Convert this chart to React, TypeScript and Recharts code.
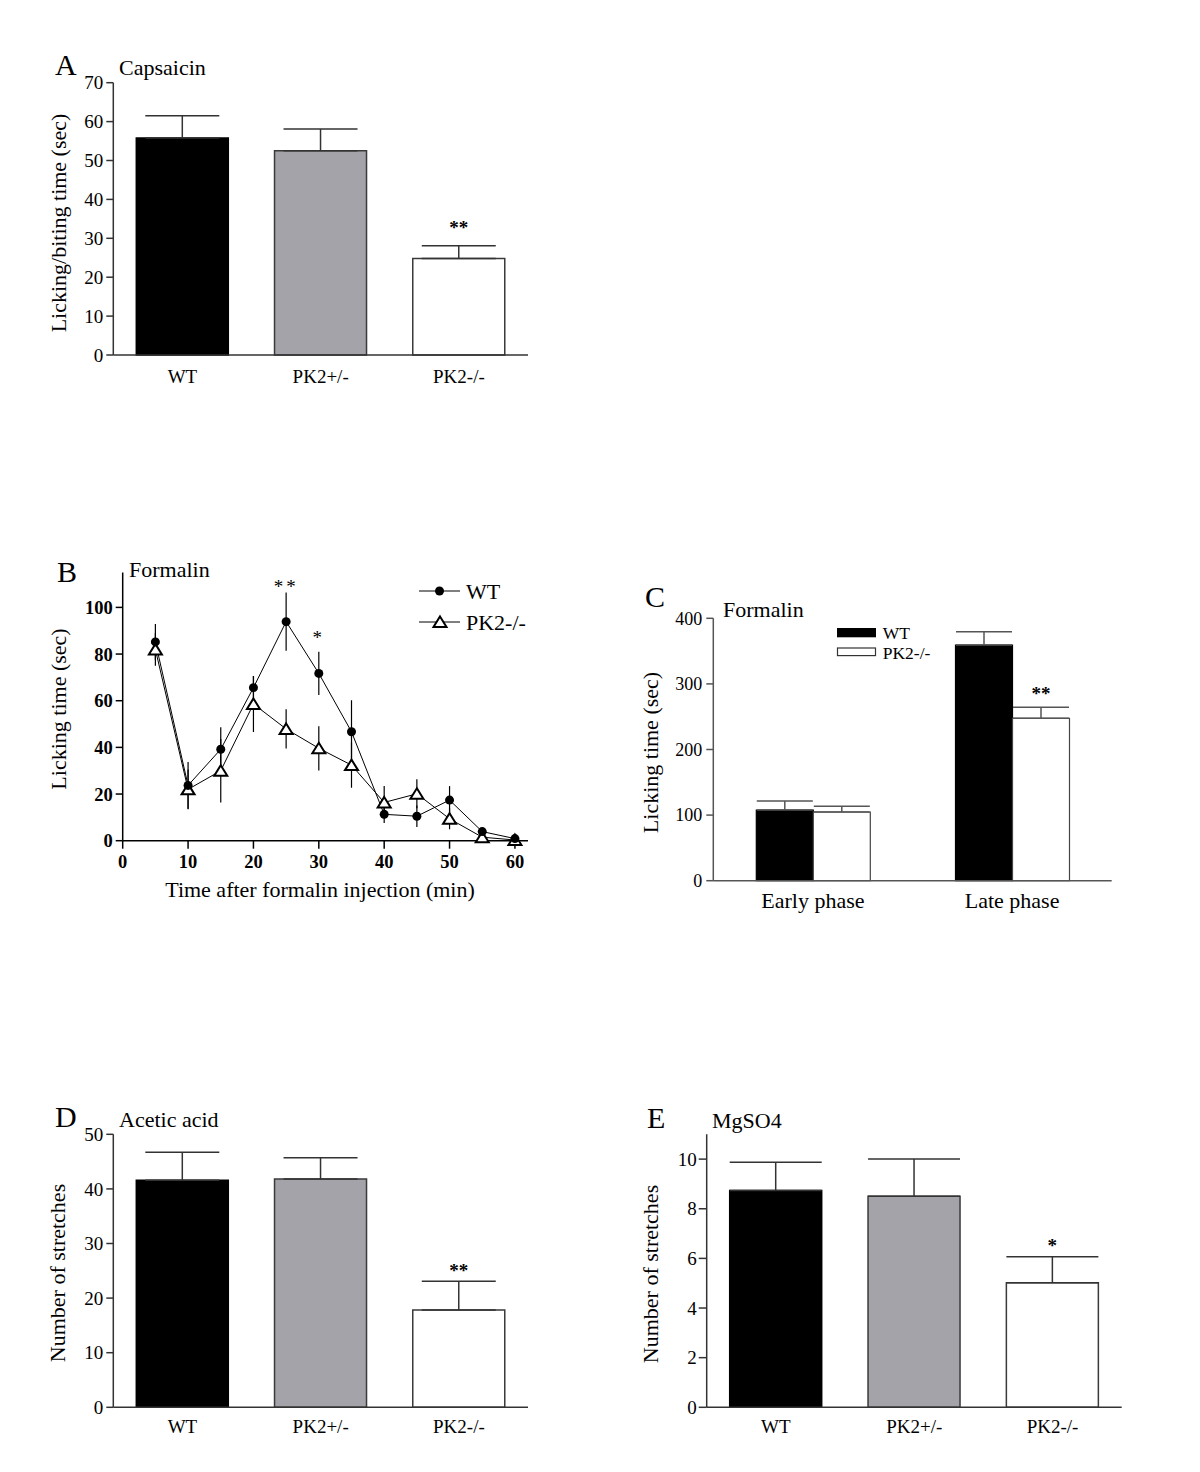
import React from "react";
import {
  BarChart,
  Bar,
  LineChart,
  Line,
  XAxis,
  YAxis,
  ErrorBar,
  Cell,
  LabelList,
  Legend,
} from "recharts";

const FONT = "'Liberation Serif', 'Times New Roman', serif";

// shared categories
const genotypes = ["WT", "PK2+/-", "PK2-/-"];
const genotypeFill = ["#000000", "#a4a3a9", "#ffffff"];
const genotypeStroke = ["#000000", "#3a3a3a", "#3a3a3a"];

// A - capsaicin
const capsaicinMean = [55.8, 52.5, 24.8];
const capsaicinSem = [5.7, 5.6, 3.3];
const capsaicinSig = ["", "", "**"];
const capsaicinTicks = [0, 10, 20, 30, 40, 50, 60, 70];

// B - formalin time course
const timePoints = [5, 10, 15, 20, 25, 30, 35, 40, 45, 50, 55, 60];
const formalinWT = [85.2, 23.7, 39.2, 65.6, 93.9, 71.7, 46.7, 11.3, 10.5, 17.4, 3.9, 0.9];
const formalinWTSem = [7.7, 10, 9.4, 5, 12.5, 9.3, 13.5, 3.7, 4.6, 6, 1.5, 0.5];
const formalinKO = [82, 22, 30, 58.6, 47.9, 39.6, 32.4, 16.4, 20.1, 9.4, 1.5, 0.3];
const formalinKOSem = [7, 8.5, 13.6, 12, 8.4, 9.5, 9.7, 7, 6.2, 4.5, 1.5, 0.3];
const formalinSig = ["", "", "", "", "**", "*", "", "", "", "", "", ""];
const timeTicks = [0, 10, 20, 30, 40, 50, 60];
const formalinTicks = [0, 20, 40, 60, 80, 100];

// C - formalin phases
const phases = ["Early phase", "Late phase"];
const phaseWT = [107.8, 359.3];
const phaseWTSem = [13.7, 20.3];
const phaseKO = [104.7, 247.6];
const phaseKOSem = [8.7, 16.7];
const phaseSig = ["", "**"];
const phaseTicks = [0, 100, 200, 300, 400];

// D - acetic acid
const aceticMean = [41.6, 41.8, 17.8];
const aceticSem = [5.1, 3.9, 5.3];
const aceticSig = ["", "", "**"];
const aceticTicks = [0, 10, 20, 30, 40, 50];

// E - MgSO4
const mgso4Mean = [8.74, 8.5, 5.02];
const mgso4Sem = [1.13, 1.5, 1.05];
const mgso4Sig = ["", "", "*"];
const mgso4Ticks = [0, 2, 4, 6, 8, 10];

const rotatedLabel = (text: string, cx: number, cy: number) => () => (
  <text
    x={cx}
    y={cy}
    transform={`rotate(-90 ${cx} ${cy})`}
    textAnchor="middle"
    dominantBaseline="central"
    fontFamily={FONT}
    fontSize={22}
    fill="#000"
  >
    {text}
  </text>
);

const barStar = (gap: number) => (props: any) => {
  const { x, y, width, value, index } = props;
  if (!value) return null;
  return (
    <text
      key={`star-${index}`}
      x={Number(x) + Number(width) / 2}
      y={Number(y) - gap}
      textAnchor="middle"
      fontFamily={FONT}
      fontSize={19}
      fontWeight="bold"
      fill="#000"
    >
      {value}
    </text>
  );
};

const pointStar = (props: any) => {
  const { x, y, value, index } = props;
  if (!value) return null;
  return (
    <text
      key={`pstar-${index}`}
      x={Number(x)}
      y={Number(y) - 29}
      textAnchor="middle"
      fontFamily={FONT}
      fontSize={19}
      letterSpacing={3}
      fill="#000"
    >
      {value}
    </text>
  );
};

const TriangleDot = (props: any) => {
  const { cx, cy, index } = props;
  if (cx == null || cy == null) return <g key={`tri-${index}`} />;
  return (
    <path
      key={`tri-${index}`}
      d={`M${cx},${cy - 5.5} L${cx + 6.5},${cy + 5} L${cx - 6.5},${cy + 5} Z`}
      fill="#fff"
      stroke="#000"
      strokeWidth={2}
    />
  );
};

type GenotypePanelProps = {
  left: number;
  top: number;
  mean: number[];
  sem: number[];
  sig: string[];
  yMax: number;
  yTicks: number[];
  margin: { top: number; right: number; bottom: number; left: number };
  yTickSize: number;
  yTickMargin: number;
  xTickMargin: number;
  yLabel: string;
  yLabelX: number;
  yLabelY: number;
  capWidth: number;
  starGap: number;
};

const GenotypePanel = (p: GenotypePanelProps) => {
  const data = genotypes.map((g, i) => ({
    group: g,
    mean: p.mean[i],
    err: [0, p.sem[i]],
    sig: p.sig[i],
  }));
  return (
    <div style={{ position: "absolute", left: p.left, top: p.top }}>
      <BarChart width={560} height={420} data={data} margin={p.margin}>
        <XAxis
          dataKey="group"
          height={40}
          tickLine={false}
          tickMargin={p.xTickMargin}
          axisLine={{ stroke: "#333", strokeWidth: 1.5 }}
          tick={{ fill: "#000", fontSize: 19, fontFamily: FONT }}
          interval={0}
        />
        <YAxis
          width={50}
          domain={[0, p.yMax]}
          ticks={p.yTicks}
          interval={0}
          tickSize={p.yTickSize}
          tickMargin={p.yTickMargin}
          axisLine={{ stroke: "#333", strokeWidth: 1.5 }}
          tickLine={{ stroke: "#333", strokeWidth: 1.5 }}
          tick={{ fill: "#000", fontSize: 19, fontFamily: FONT }}
          label={{ content: rotatedLabel(p.yLabel, p.yLabelX, p.yLabelY) }}
        />
        <Bar dataKey="mean" barSize={92} strokeWidth={1.5} isAnimationActive={false}>
          {genotypes.map((g, i) => (
            <Cell key={g} fill={genotypeFill[i]} stroke={genotypeStroke[i]} />
          ))}
          <ErrorBar dataKey="err" width={p.capWidth} stroke="#333" strokeWidth={1.5} direction="y" />
          <LabelList dataKey="sig" content={barStar(p.starGap)} />
        </Bar>
      </BarChart>
    </div>
  );
};

const FormalinLegend = () => (
  <svg width={140} height={64}>
    <line x1={0} y1={18} x2={41} y2={18} stroke="#000" strokeWidth={1} />
    <circle cx={20.5} cy={18} r={4.5} fill="#000" />
    <text x={47} y={18} dominantBaseline="central" fontFamily={FONT} fontSize={22} fill="#000">
      WT
    </text>
    <line x1={0} y1={49} x2={41} y2={49} stroke="#000" strokeWidth={1} />
    <path d="M21,43.5 L27.5,54 L14.5,54 Z" fill="#fff" stroke="#000" strokeWidth={2} />
    <text x={47} y={49} dominantBaseline="central" fontFamily={FONT} fontSize={22} fill="#000">
      PK2-/-
    </text>
  </svg>
);

const FormalinTimePanel = () => {
  const data = timePoints.map((t, i) => ({
    t,
    wt: formalinWT[i],
    wtSem: formalinWTSem[i],
    ko: formalinKO[i],
    koSem: formalinKOSem[i],
    sig: formalinSig[i],
  }));
  return (
    <div style={{ position: "absolute", left: 0, top: 500 }}>
      <LineChart
        width={560}
        height={420}
        data={data}
        margin={{ top: 72.4, right: 32, bottom: 19.3, left: 72.7 }}
      >
        <XAxis
          dataKey="t"
          type="number"
          domain={[0, 62]}
          ticks={timeTicks}
          interval={0}
          height={60}
          tickSize={8}
          tickMargin={6}
          axisLine={{ stroke: "#000", strokeWidth: 1.5 }}
          tickLine={{ stroke: "#000", strokeWidth: 1.5 }}
          tick={{ fill: "#000", fontSize: 18.5, fontWeight: "bold", fontFamily: FONT }}
          label={{
            content: () => (
              <text x={320} y={396.7} textAnchor="middle" fontFamily={FONT} fontSize={22} fill="#000">
                Time after formalin injection (min)
              </text>
            ),
          }}
        />
        <YAxis
          width={50}
          type="number"
          domain={[0, 115]}
          ticks={formalinTicks}
          interval={0}
          tickSize={7}
          tickMargin={3}
          axisLine={{ stroke: "#000", strokeWidth: 1.5 }}
          tickLine={{ stroke: "#000", strokeWidth: 1.5 }}
          tick={{ fill: "#000", fontSize: 18.5, fontWeight: "bold", fontFamily: FONT }}
          label={{ content: rotatedLabel("Licking time (sec)", 58.3, 209) }}
        />
        <Legend
          layout="vertical"
          align="center"
          verticalAlign="middle"
          content={FormalinLegend}
          wrapperStyle={{ left: 419, top: 72.7, width: 140, height: 64 }}
        />
        <Line
          dataKey="ko"
          stroke="#000"
          strokeWidth={1}
          dot={TriangleDot}
          activeDot={false}
          isAnimationActive={false}
        >
          <ErrorBar dataKey="koSem" width={0} stroke="#000" strokeWidth={1.2} direction="y" />
        </Line>
        <Line
          dataKey="wt"
          stroke="#000"
          strokeWidth={1}
          dot={{ r: 4.5, fill: "#000", stroke: "#000", strokeWidth: 0 }}
          activeDot={false}
          isAnimationActive={false}
        >
          <ErrorBar dataKey="wtSem" width={0} stroke="#000" strokeWidth={1.2} direction="y" />
          <LabelList dataKey="sig" content={pointStar} />
        </Line>
      </LineChart>
    </div>
  );
};

const PhaseLegend = () => (
  <svg width={130} height={50}>
    <rect x={1} y={10} width={39} height={9.3} fill="#000" />
    <text x={46.7} y={14.7} dominantBaseline="central" fontFamily={FONT} fontSize={17.5} fill="#000">
      WT
    </text>
    <rect x={1.5} y={30} width={38} height={7.6} fill="#fff" stroke="#333" strokeWidth={1.2} />
    <text x={46.7} y={35.3} dominantBaseline="central" fontFamily={FONT} fontSize={17.5} fill="#000">
      PK2-/-
    </text>
  </svg>
);

const FormalinPhasePanel = () => {
  const data = phases.map((ph, i) => ({
    phase: ph,
    wt: phaseWT[i],
    wtErr: [0, phaseWTSem[i]],
    ko: phaseKO[i],
    koErr: [0, phaseKOSem[i]],
    sig: phaseSig[i],
  }));
  return (
    <div style={{ position: "absolute", left: 600, top: 540 }}>
      <BarChart
        width={560}
        height={400}
        data={data}
        barGap={0}
        margin={{ top: 78.3, right: 48.3, bottom: 19.3, left: 63.3 }}
      >
        <XAxis
          dataKey="phase"
          height={40}
          tickLine={false}
          tickMargin={6}
          interval={0}
          axisLine={{ stroke: "#555", strokeWidth: 1.5 }}
          tick={{ fill: "#000", fontSize: 22, fontFamily: FONT }}
        />
        <YAxis
          width={50}
          domain={[0, 400]}
          ticks={phaseTicks}
          interval={0}
          tickSize={7}
          tickMargin={4}
          axisLine={{ stroke: "#555", strokeWidth: 1.5 }}
          tickLine={{ stroke: "#555", strokeWidth: 1.5 }}
          tick={{ fill: "#000", fontSize: 18, fontFamily: FONT }}
          label={{ content: rotatedLabel("Licking time (sec)", 50, 212.5) }}
        />
        <Legend
          layout="vertical"
          align="center"
          verticalAlign="middle"
          content={PhaseLegend}
          wrapperStyle={{ left: 236.3, top: 78, width: 130, height: 50 }}
        />
        <Bar dataKey="wt" barSize={57} fill="#000" stroke="#000" strokeWidth={1.2} isAnimationActive={false}>
          <ErrorBar dataKey="wtErr" width={28} stroke="#555" strokeWidth={1.5} direction="y" />
        </Bar>
        <Bar dataKey="ko" barSize={57} fill="#fff" stroke="#444" strokeWidth={1.2} isAnimationActive={false}>
          <ErrorBar dataKey="koErr" width={28} stroke="#555" strokeWidth={1.5} direction="y" />
          <LabelList dataKey="sig" content={barStar(18.3)} />
        </Bar>
      </BarChart>
    </div>
  );
};

const captions = [
  { text: "A", x: 55, y: 75, size: 30 },
  { text: "Capsaicin", x: 119, y: 75, size: 22 },
  { text: "B", x: 57, y: 582, size: 30 },
  { text: "Formalin", x: 129, y: 577, size: 22 },
  { text: "C", x: 645, y: 607, size: 30 },
  { text: "Formalin", x: 723, y: 617, size: 22 },
  { text: "D", x: 55, y: 1127, size: 30 },
  { text: "Acetic acid", x: 119, y: 1127, size: 22 },
  { text: "E", x: 647, y: 1128, size: 30 },
  { text: "MgSO4", x: 712, y: 1128, size: 22 },
];

export default function App() {
  return (
    <div
      style={{
        position: "absolute",
        left: 0,
        top: 0,
        width: 1200,
        height: 1472,
        background: "#fff",
        fontFamily: FONT,
      }}
    >
      <GenotypePanel
        left={0}
        top={0}
        mean={capsaicinMean}
        sem={capsaicinSem}
        sig={capsaicinSig}
        yMax={70}
        yTicks={capsaicinTicks}
        margin={{ top: 82.7, right: 32, bottom: 25, left: 63.3 }}
        yTickSize={7}
        yTickMargin={3}
        xTickMargin={8.5}
        yLabel="Licking/biting time (sec)"
        yLabelX={58}
        yLabelY={223}
        capWidth={37}
        starGap={24.3}
      />
      <FormalinTimePanel />
      <FormalinPhasePanel />
      <GenotypePanel
        left={0}
        top={1050}
        mean={aceticMean}
        sem={aceticSem}
        sig={aceticSig}
        yMax={50}
        yTicks={aceticTicks}
        margin={{ top: 84.3, right: 32, bottom: 22.7, left: 63.3 }}
        yTickSize={7}
        yTickMargin={3}
        xTickMargin={6.2}
        yLabel="Number of stretches"
        yLabelX={57}
        yLabelY={223}
        capWidth={37}
        starGap={33.3}
      />
      <GenotypePanel
        left={600}
        top={1050}
        mean={mgso4Mean}
        sem={mgso4Sem}
        sig={mgso4Sig}
        yMax={11}
        yTicks={mgso4Ticks}
        margin={{ top: 84.3, right: 38.3, bottom: 22.7, left: 56.7 }}
        yTickSize={8}
        yTickMargin={2}
        xTickMargin={6.2}
        yLabel="Number of stretches"
        yLabelX={50}
        yLabelY={224}
        capWidth={46}
        starGap={31}
      />
      <svg
        width={1200}
        height={1472}
        style={{ position: "absolute", left: 0, top: 0, pointerEvents: "none" }}
      >
        {captions.map((c, i) => (
          <text key={i} x={c.x} y={c.y} fontFamily={FONT} fontSize={c.size} fill="#000">
            {c.text}
          </text>
        ))}
      </svg>
    </div>
  );
}
